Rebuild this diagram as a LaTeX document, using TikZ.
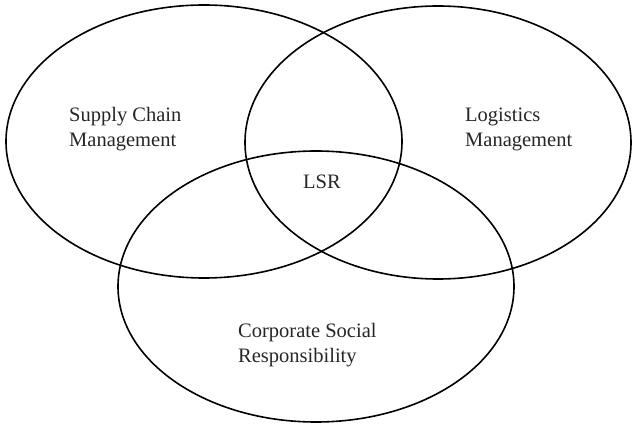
\documentclass[tikz,border=0pt]{standalone}
\usepackage{fontspec}
\setmainfont{Liberation Serif}
\tikzset{
  set/.style={black,line width=1.6pt},
  setlabel/.style={inner sep=0pt,align=left,anchor=west,text=black!85,
                   font=\fontsize{20.5}{25}\selectfont}
}
\begin{document}
\begin{tikzpicture}[x=1pt,y=-1pt]
  \useasboundingbox (0,0) rectangle (633,425);
  \draw[set] (204,141.5) ellipse [x radius=198, y radius=136.5];
  \draw[set] (438,142.5) ellipse [x radius=193, y radius=136.5];
  \draw[set] (316,286.5) ellipse [x radius=198, y radius=135.5];
  \node[setlabel] (scm) at (69,129.5) {Supply Chain\\Management};
  \node[setlabel] (lm) at (465,129.5) {Logistics\\Management};
  \node[setlabel] (csr) at (238,345) {Corporate Social\\Responsibility};
  \node[setlabel,anchor=center] (lsr) at (322,182) {LSR};
\end{tikzpicture}
\end{document}
